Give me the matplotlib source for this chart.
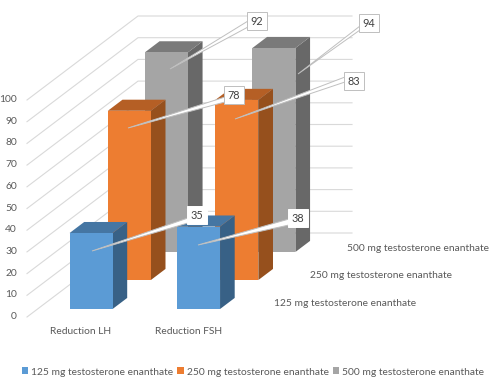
import matplotlib
matplotlib.use("Agg")
import matplotlib.pyplot as plt
from matplotlib.patches import Polygon, Patch

plt.rcParams['font.family'] = ['Lato', 'DejaVu Sans']

# ---- data ----
categories = ["Reduction LH", "Reduction FSH"]
series_names = ["125 mg testosterone enanthate",
                "250 mg testosterone enanthate",
                "500 mg testosterone enanthate"]
values_125 = [35, 38]
values_250 = [78, 83]
values_500 = [92, 94]
y_ticks = [0, 10, 20, 30, 40, 50, 60, 70, 80, 90, 100]

# ---- styles ----
front_cols = ["#5B9BD5", "#ED7D31", "#A5A5A5"]
top_cols = ["#4576A3", "#B55F25", "#7A7A7A"]
side_cols = ["#386186", "#96501D", "#686868"]
grid_col = "#D9D9D9"
text_col = "#595959"
FS = 7.4

# ---- layout (pixels of the 3-D projection) ----
X0, Y0 = 27.0, 317.0       # front-left corner of the wall
PX_PER_UNIT = 2.17         # vertical pixels per value unit
DEPTH_DX, DEPTH_DY = 111.0, 84.0
BACK_WALL_W = 214.0
BAR_W = 43.0
BAR_DEPTH = 0.132
CAT_X = [32.0, 139.5]
SERIES_D = [0.095, 0.44, 0.774]
LABEL_TIPS = [[(92, 251), (198, 245)], [(128, 128), (235, 119)], [(170, 69), (298, 74)]]
LABEL_BOX = [[(197, 215), (298, 218)], [(234, 95), (354, 81)], [(257, 21), (369, 23)]]
LABEL_ROOT = [[(188, 223), (289, 225)], [(225, 102), (345, 82)], [(248, 27), (360, 30)]]
LABEL_ROOT2 = [[(188, 218), (289, 219)], [(225, 97), (345, 77)], [(248, 21), (360, 26)]]
DEPTH_LABEL_X = [274, 310, 347]
DEPTH_LABEL_Y = [304, 276, 248]
CAT_LABEL_X = [81, 189]


def project(x, value, depth):
    return (X0 + x + DEPTH_DX * depth, Y0 - PX_PER_UNIT * value - DEPTH_DY * depth)


fig = plt.figure(figsize=(4.9, 3.89), dpi=100, facecolor="white")
ax = fig.add_axes([0, 0, 1, 1])
ax.set_xlim(0, 490)
ax.set_ylim(389, 0)
ax.axis("off")

# wall gridlines and value axis labels
for t in y_ticks:
    a, b = project(0, t, 0), project(0, t, 1)
    c = (b[0] + BACK_WALL_W, b[1])
    ax.plot([a[0], b[0], c[0]], [a[1], b[1], c[1]], color=grid_col, lw=0.8, zorder=1)
    ax.text(17, a[1] - 0.5, str(t), ha="right", va="center", fontsize=FS, color=text_col)

# bars, back to front
all_values = [values_125, values_250, values_500]
zo = 2
for s in [2, 1, 0]:
    d = SERIES_D[s]
    for c, v in enumerate(all_values[s]):
        x = CAT_X[c]
        d2 = d + BAR_DEPTH
        front = [project(x, 0, d), project(x + BAR_W, 0, d), project(x + BAR_W, v, d), project(x, v, d)]
        top = [project(x, v, d), project(x + BAR_W, v, d), project(x + BAR_W, v, d2), project(x, v, d2)]
        side = [project(x + BAR_W, 0, d), project(x + BAR_W, 0, d2), project(x + BAR_W, v, d2), project(x + BAR_W, v, d)]
        ax.add_patch(Polygon(side, closed=True, fc=side_cols[s], ec="none", zorder=zo))
        ax.add_patch(Polygon(top, closed=True, fc=top_cols[s], ec="none", zorder=zo))
        ax.add_patch(Polygon(front, closed=True, fc=front_cols[s], ec="none", zorder=zo))
        zo += 1

# callouts
for s in range(3):
    for c, v in enumerate(all_values[s]):
        tip = LABEL_TIPS[s][c]
        ax.add_patch(Polygon([tip, LABEL_ROOT[s][c], LABEL_ROOT2[s][c]], closed=True,
                             fc="white", ec="#BFBFBF", lw=0.7, zorder=20))
        bx, by = LABEL_BOX[s][c]
        ax.text(bx, by, str(v), ha="center", va="center", fontsize=FS + 0.4, color="#404040", zorder=21,
                bbox=dict(boxstyle="square,pad=0.33", fc="white", ec="#BFBFBF" if s else "white", lw=0.7))

# depth axis labels
for name, x, y in zip(series_names, DEPTH_LABEL_X, DEPTH_LABEL_Y):
    ax.text(x, y, name, ha="left", va="center", fontsize=FS, color=text_col)

# category labels
for name, x in zip(categories, CAT_LABEL_X):
    ax.text(x, 331, name, ha="center", va="center", fontsize=FS, color=text_col)

# legend
handles = [Patch(fc=col, ec="none", label=n) for col, n in zip(front_cols, series_names)]
leg = ax.legend(handles=handles, ncol=3, loc="center", bbox_to_anchor=(253 / 490, 1 - 372 / 389),
                frameon=False, fontsize=FS, labelcolor=text_col, handlelength=0.65, handleheight=0.65,
                handletextpad=0.3, columnspacing=0.35, borderpad=0, borderaxespad=0)

fig.savefig("out.png", dpi=100, facecolor="white")
